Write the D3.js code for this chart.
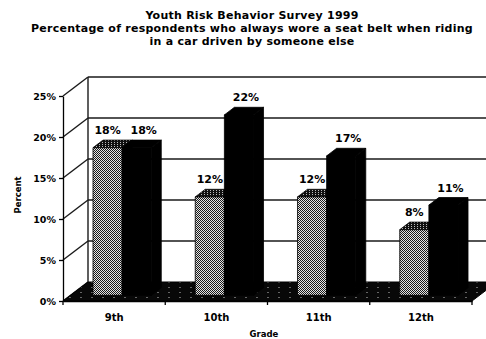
<!DOCTYPE html>
<html>
<head>
<meta charset="utf-8">
<script src="https://cdn.jsdelivr.net/npm/d3@7"></script>
<style>
  body { margin: 0; background: #fff; }
  svg { display: block; }
  text { font-family: "DejaVu Sans", sans-serif; font-weight: bold; fill: #000; }
</style>
</head>
<body>
<div id="chart"></div>
<script>
// data
var grades = ["9th", "10th", "11th", "12th"];
var hatched = [18, 12, 12, 8];   // hatched (grey) series
var solid = [18, 22, 17, 11];    // black series
var yTicks = [0, 5, 10, 15, 20, 25];
var titleLines = [
  "Youth Risk Behavior Survey 1999",
  "Percentage of respondents who always wore a seat belt when riding",
  "in a car driven by someone else"
];

var W = 486, H = 339;
var plot = {left: 63, right: 472, bottom: 301, top: 96};
var depth = {x: 25, y: -19};   // full depth of the 3d box
var z0 = 0.3, z1 = 0.7;        // depth slot where the bars stand

var svg = d3.select("#chart").append("svg")
  .attr("width", W)
  .attr("height", H);

// fill patterns
var defs = svg.append("defs");
var p1 = defs.append("pattern").attr("id", "hatch")
  .attr("patternUnits", "userSpaceOnUse").attr("width", 2).attr("height", 2);
p1.append("rect").attr("width", 2).attr("height", 2).attr("fill", "#e6e6e6");
p1.append("rect").attr("width", 1).attr("height", 1).attr("fill", "#1a1a1a");
p1.append("rect").attr("x", 1).attr("y", 1).attr("width", 1).attr("height", 1).attr("fill", "#1a1a1a");

var p2 = defs.append("pattern").attr("id", "hatchTop")
  .attr("patternUnits", "userSpaceOnUse").attr("width", 3).attr("height", 2);
p2.append("rect").attr("width", 3).attr("height", 2).attr("fill", "#111");
p2.append("rect").attr("width", 1).attr("height", 1).attr("fill", "#bbb");

var p3 = defs.append("pattern").attr("id", "floor")
  .attr("patternUnits", "userSpaceOnUse").attr("width", 11).attr("height", 5);
p3.append("rect").attr("width", 11).attr("height", 5).attr("fill", "#080808");
p3.append("rect").attr("x", 3).attr("y", 2).attr("width", 2).attr("height", 1).attr("fill", "#666");

// scales
var y = d3.scaleLinear().domain([0, 25]).range([plot.bottom, plot.top]);
var x = d3.scaleBand().domain(grades).range([plot.left, plot.right]);
var bw = x.bandwidth();
var xs = d3.scaleBand().domain(["a", "b"]).range([bw * 0.22, bw * 0.79]);

// project a front-plane point (px, value) back by fraction z of the depth
function proj(px, v, z) {
  return [px + z * depth.x, y(v) + z * depth.y];
}
function poly(pts) {
  return pts.map(function(p) { return p.join(","); }).join(" ");
}

// title
svg.append("g").selectAll("text")
  .data(titleLines)
  .enter().append("text")
  .attr("x", 252)
  .attr("y", function(d, i) { return 19 + i * 12.8; })
  .attr("text-anchor", "middle")
  .style("font-size", "11px")
  .style("letter-spacing", "0.25px")
  .text(function(d) { return d; });

// walls and grid
var walls = svg.append("g")
  .attr("fill", "none")
  .attr("stroke", "#1a1a1a")
  .attr("stroke-width", 1.4);

walls.selectAll(".side")
  .data(yTicks)
  .enter().append("line")
  .attr("class", "side")
  .attr("x1", function(d) { return proj(plot.left, d, 0)[0]; })
  .attr("y1", function(d) { return proj(plot.left, d, 0)[1]; })
  .attr("x2", function(d) { return proj(plot.left, d, 1)[0]; })
  .attr("y2", function(d) { return proj(plot.left, d, 1)[1]; });

walls.selectAll(".back")
  .data(yTicks.slice(1))
  .enter().append("line")
  .attr("class", "back")
  .attr("x1", function(d) { return proj(plot.left, d, 1)[0]; })
  .attr("y1", function(d) { return proj(plot.left, d, 1)[1]; })
  .attr("x2", function(d) { return proj(plot.right, d, 1)[0]; })
  .attr("y2", function(d) { return proj(plot.right, d, 1)[1]; });

walls.append("line")
  .attr("x1", proj(plot.left, 0, 1)[0]).attr("y1", proj(plot.left, 0, 1)[1])
  .attr("x2", proj(plot.left, 25, 1)[0]).attr("y2", proj(plot.left, 25, 1)[1]);

// floor
svg.append("polygon")
  .attr("points", poly([proj(plot.left, 0, 0), proj(plot.right, 0, 0), proj(plot.right, 0, 1), proj(plot.left, 0, 1)]))
  .attr("fill", "url(#floor)")
  .attr("stroke", "#000")
  .attr("stroke-width", 1);

// bars
var rows = grades.map(function(g, i) {
  return [
    {grade: g, key: "a", value: hatched[i]},
    {grade: g, key: "b", value: solid[i]}
  ];
});
var bars = [].concat.apply([], rows);

function x0(d) { return x(d.grade) + xs(d.key); }
function x1(d) { return x0(d) + xs.bandwidth(); }

var barG = svg.append("g").selectAll("g")
  .data(bars)
  .enter().append("g")
  .attr("stroke", "#000")
  .attr("stroke-width", 0.8)
  .attr("stroke-linejoin", "round");

// right side
barG.append("polygon")
  .attr("points", function(d) {
    return poly([proj(x1(d), 0, z0), proj(x1(d), d.value, z0), proj(x1(d), d.value, z1), proj(x1(d), 0, z1)]);
  })
  .attr("fill", "#000");

// top
barG.append("polygon")
  .attr("points", function(d) {
    return poly([proj(x0(d), d.value, z0), proj(x1(d), d.value, z0), proj(x1(d), d.value, z1), proj(x0(d), d.value, z1)]);
  })
  .attr("fill", function(d) { return d.key === "a" ? "url(#hatchTop)" : "#000"; });

// front
barG.append("polygon")
  .attr("points", function(d) {
    return poly([proj(x0(d), 0, z0), proj(x1(d), 0, z0), proj(x1(d), d.value, z0), proj(x0(d), d.value, z0)]);
  })
  .attr("fill", function(d) { return d.key === "a" ? "url(#hatch)" : "#000"; });

// value labels
svg.append("g").selectAll("text")
  .data(bars)
  .enter().append("text")
  .attr("x", function(d) {
    var c = (x0(d) + x1(d)) / 2 + z0 * depth.x;
    return d.key === "a" ? c : c + 7;
  })
  .attr("y", function(d) { return proj(0, d.value, z1)[1] - 6; })
  .attr("text-anchor", "middle")
  .style("font-size", "11px")
  .text(function(d) { return d.value + "%"; });

// y axis
var yAxis = svg.append("g")
  .attr("transform", "translate(" + plot.left + ",0)")
  .call(d3.axisLeft(y)
    .tickValues(yTicks)
    .tickFormat(function(d) { return d + "%"; })
    .tickSize(4)
    .tickSizeOuter(0)
    .tickPadding(3));
yAxis.selectAll("text").style("font-size", "9.5px").style("font-family", "DejaVu Sans").style("font-weight", "bold");
yAxis.selectAll("line, path").attr("stroke", "#000").attr("stroke-width", 1.3);

// x axis: category labels and boundary ticks
var xAxis = svg.append("g")
  .attr("transform", "translate(0," + plot.bottom + ")")
  .call(d3.axisBottom(x).tickSize(0).tickPadding(13));
xAxis.select(".domain").attr("stroke", "#000").attr("stroke-width", 1.3);
xAxis.selectAll("text").style("font-size", "10px").style("font-family", "DejaVu Sans").style("font-weight", "bold");

var bounds = [x(grades[0])].concat(grades.map(function(g) { return x(g) + bw; }));
xAxis.selectAll(".bound")
  .data(bounds)
  .enter().append("line")
  .attr("class", "bound")
  .attr("x1", function(d) { return d; })
  .attr("x2", function(d) { return d; })
  .attr("y1", 0)
  .attr("y2", 4)
  .attr("stroke", "#000")
  .attr("stroke-width", 1.3);

// axis titles
svg.append("text")
  .attr("transform", "translate(21,195) rotate(-90)")
  .attr("text-anchor", "middle")
  .style("font-size", "8.5px")
  .text("Percent");

svg.append("text")
  .attr("x", 264)
  .attr("y", 337)
  .attr("text-anchor", "middle")
  .style("font-size", "8.5px")
  .text("Grade");
</script>
</body>
</html>
